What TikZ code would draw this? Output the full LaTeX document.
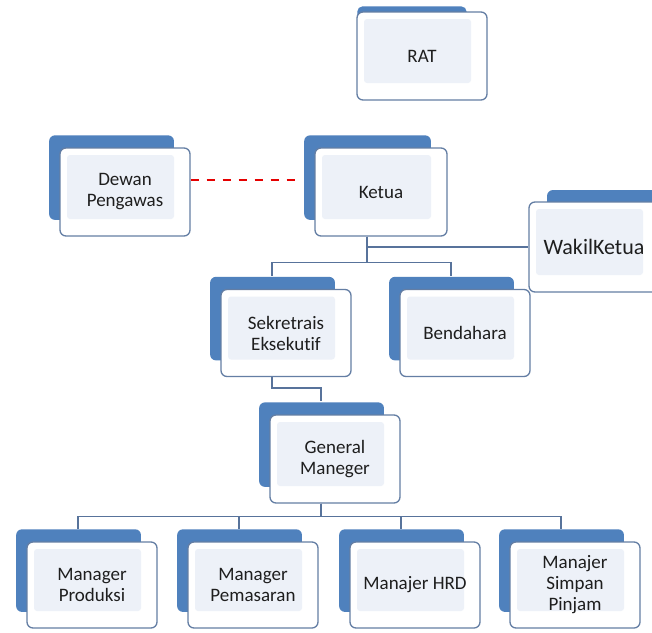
\documentclass[tikz,border=0pt]{standalone}
\usepackage{fontspec}
\setmainfont{Carlito}[Ligatures=CommonOff]
\usetikzlibrary{shadows}
\definecolor{backblue}{RGB}{79,129,189}
\definecolor{frontline}{RGB}{100,126,164}
\definecolor{innerfill}{RGB}{237,241,248}
\definecolor{linkblue}{RGB}{88,115,155}
\definecolor{textgrey}{RGB}{30,30,30}
\tikzset{
  unit/.style={rectangle, rounded corners=6pt, draw=frontline, line width=1.3pt, fill=white,
    minimum width=130pt, minimum height=88pt, align=center, text=textgrey,
    font=\fontsize{19}{21}\selectfont,
    path picture={\fill[innerfill, rounded corners=3pt]
      ([shift={(7pt,-7pt)}]path picture bounding box.north west) rectangle
      ([shift={(-16pt,17pt)}]path picture bounding box.south east);}},
  stack/.style={unit, general shadow={shadow xshift=-14pt, shadow yshift=15pt, shadow scale=0.96, fill=backblue}},
  link/.style={draw=linkblue, line width=1.6pt},
  tie/.style={draw=red!90!black, line width=1.8pt, dash pattern=on 8pt off 8pt}
}
\begin{document}
\begin{tikzpicture}[x=1pt,y=-1pt]
  \useasboundingbox (0,0) rectangle (652,632);
  \clip (0,0) rectangle (652,632);
  \fill[white] (0,0) rectangle (652,632);

  \node[unit, general shadow={shadow xshift=-12pt, shadow yshift=15pt, shadow scale=0.84, fill=backblue}] (rat) at (422,56) {RAT};
  \node[stack] (dewan) at (125,192) {Dewan\\Pengawas};
  \node[stack, minimum width=132pt] (ketua) at (381,192) {Ketua};
  \node[unit, minimum height=90pt, font=\fontsize{22}{26}\selectfont,
        general shadow={shadow xshift=18pt, shadow yshift=12pt, fill=backblue}] (wakil) at (594,247) {WakilKetua};
  \node[stack, minimum height=87pt] (sek) at (286,333) {Sekretrais\\Eksekutif};
  \node[stack, minimum height=87pt] (bend) at (465,333) {Bendahara};
  \node[stack] (gen) at (335,459) {General\\Maneger};
  \node[stack, minimum height=86pt] (prod) at (92,585) {Manager\\Produksi};
  \node[stack, minimum height=86pt] (pem) at (253,585) {Manager\\Pemasaran};
  \node[stack, minimum height=86pt] (hrd) at (415,585) {Manajer HRD};
  \node[stack, minimum height=86pt] (simpan) at (575,585) {Manajer\\Simpan\\Pinjam};

  \draw[tie] ([yshift=12pt]dewan.east) -- ([xshift=-13pt,yshift=12pt]ketua.west);
  \draw[link] ([xshift=-14pt]ketua.south) |- (wakil.west);
  \draw[link] ([xshift=-14pt]ketua.south) -- ++(0,26) -| ([xshift=-14pt,yshift=13pt]sek.north);
  \draw[link] ([xshift=-14pt]ketua.south) -- ++(0,26) -| ([xshift=-14pt,yshift=13pt]bend.north);
  \draw[link] ([xshift=-14pt]sek.south) -- ++(0,11) -| ([xshift=-14pt,yshift=13pt]gen.north);
  \draw[link] ([xshift=-14pt]gen.south) -- ++(0,13) -| ([xshift=-14pt,yshift=12pt]prod.north);
  \draw[link] ([xshift=-14pt]gen.south) -- ++(0,13) -| ([xshift=-14pt,yshift=12pt]pem.north);
  \draw[link] ([xshift=-14pt]gen.south) -- ++(0,13) -| ([xshift=-14pt,yshift=12pt]hrd.north);
  \draw[link] ([xshift=-14pt]gen.south) -- ++(0,13) -| ([xshift=-14pt,yshift=12pt]simpan.north);
\end{tikzpicture}
\end{document}
